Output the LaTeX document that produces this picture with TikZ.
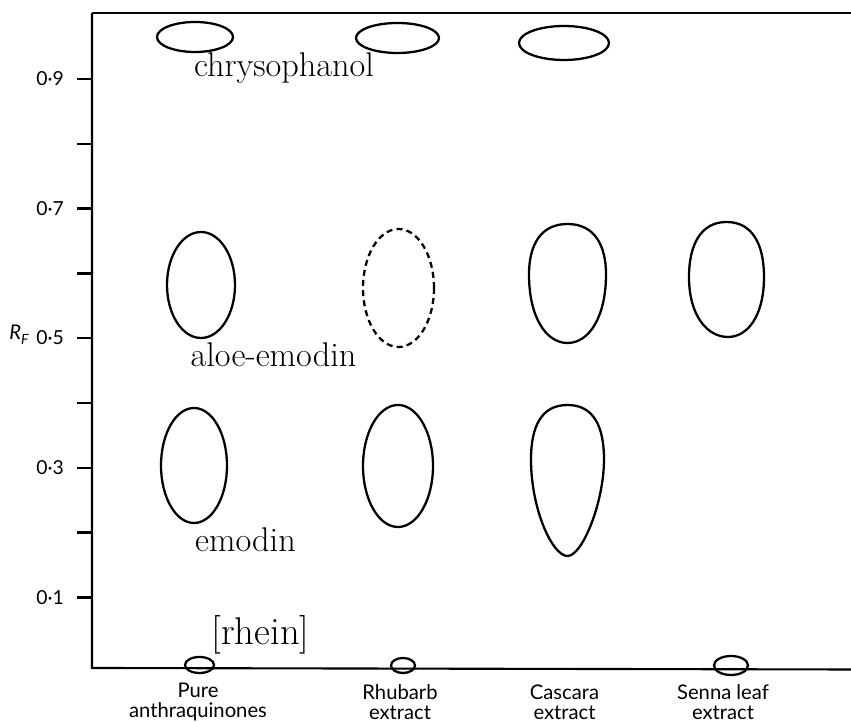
\documentclass[tikz,border=0pt]{standalone}
\usepackage{fontspec}
\setmainfont{Latin Modern Roman}
\newfontfamily\lblfont{Lato}
\begin{document}
\begin{tikzpicture}[
    axis/.style={line width=1.2pt},
    spot/.style={line width=1.3pt},
    faint/.style={line width=1.3pt, dash pattern=on 3.4pt off 2.4pt},
    compound/.style={font=\fontsize{19.5}{22}\selectfont},
    ticklbl/.style={anchor=east, font=\lblfont\fontsize{11}{13}\selectfont},
    source/.style={align=center, inner sep=1pt, font=\lblfont\fontsize{11.5}{11.5}\selectfont}
  ]
  \useasboundingbox (0,0) rectangle (17.02,14.44);
  \coordinate (O) at (1.84,1.08);
  \coordinate (T) at (1.84,14.18);
  \coordinate (TR) at (17.02,14.18);
  \coordinate (BR) at (17.02,1.05);
  \draw[axis] (T) -- (O) -- (BR);
  \draw[axis] (T) -- (TR);
  % ticks
  \draw[axis] (1.54,2.49) -- (1.84,2.49);
  \draw[axis] (1.54,3.79) -- (1.84,3.79);
  \draw[axis] (1.54,5.08) -- (1.84,5.08);
  \draw[axis] (1.54,6.38) -- (1.84,6.38);
  \draw[axis] (1.54,7.68) -- (1.84,7.68);
  \draw[axis] (1.54,8.97) -- (1.84,8.97);
  \draw[axis] (1.54,10.27) -- (1.84,10.27);
  \draw[axis] (1.54,11.56) -- (1.84,11.56);
  \draw[axis] (1.54,12.86) -- (1.84,12.86);
  \node[ticklbl] (t1) at (1.40,2.49) {0·1};
  \node[ticklbl] (t3) at (1.40,5.08) {0·3};
  \node[ticklbl] (t5) at (1.40,7.68) {0·5};
  \node[ticklbl] (t7) at (1.40,10.27) {0·7};
  \node[ticklbl] (t9) at (1.40,12.86) {0·9};
  \node[font=\lblfont\fontsize{11.5}{13}\selectfont] (rf) at (0.38,7.74)
    {\textit{R}\raisebox{-0.45ex}{\fontsize{8}{9}\selectfont\textit{F}}};
  % chrysophanol
  \draw[spot] (3.90,13.70) ellipse (0.76 and 0.30);
  \draw[spot] (7.95,13.68) ellipse (0.83 and 0.30);
  \draw[spot] (11.28,13.58) ellipse (0.90 and 0.34);
  % aloe-emodin
  \draw[spot] (4.02,8.74) ellipse (0.68 and 1.06);
  \draw[faint] (7.97,8.68) ellipse (0.71 and 1.18);
  \draw[spot] (11.35,9.96) .. controls (11.88,9.96) and (12.12,9.55) .. (12.12,8.95)
    .. controls (12.12,8.10) and (11.78,7.58) .. (11.35,7.58)
    .. controls (10.92,7.58) and (10.58,8.10) .. (10.58,8.95)
    .. controls (10.58,9.55) and (10.82,9.96) .. (11.35,9.96) -- cycle;
  \draw[spot] (14.53,10.00) .. controls (15.05,10.00) and (15.28,9.55) .. (15.28,8.90)
    .. controls (15.28,8.12) and (14.95,7.70) .. (14.56,7.70)
    .. controls (14.15,7.70) and (13.78,8.12) .. (13.78,8.90)
    .. controls (13.78,9.55) and (14.02,10.00) .. (14.53,10.00) -- cycle;
  % emodin
  \draw[spot] (3.88,5.13) ellipse (0.66 and 1.15);
  \draw[spot] (7.96,5.12) ellipse (0.70 and 1.22);
  \draw[spot] (11.35,6.34) .. controls (11.88,6.34) and (12.08,5.90) .. (12.08,5.25)
    .. controls (12.08,4.40) and (11.65,3.32) .. (11.35,3.32)
    .. controls (11.05,3.32) and (10.62,4.25) .. (10.62,5.25)
    .. controls (10.62,5.90) and (10.82,6.34) .. (11.35,6.34) -- cycle;
  % rhein
  \draw[spot] (3.99,1.14) ellipse (0.29 and 0.16);
  \draw[spot] (8.06,1.13) ellipse (0.24 and 0.15);
  \draw[spot] (14.62,1.13) ellipse (0.34 and 0.19);
  \node[compound] (chry) at (5.68,13.08) {chrysophanol};
  \node[compound] (aloe) at (5.47,7.34) {aloe-emodin};
  \node[compound] (emod) at (4.91,3.64) {emodin};
  \node[compound, font=\fontsize{22}{24}\selectfont] (rhein) at (5.21,1.74) {[rhein]};
  \node[source] (pure) at (3.96,0.40) {Pure\\anthraquinones};
  \node[source] (rhub) at (8.00,0.40) {Rhubarb\\extract};
  \node[source] (casc) at (11.29,0.40) {Cascara\\extract};
  \node[source] (senn) at (14.46,0.40) {Senna leaf\\extract};
\end{tikzpicture}
\end{document}
